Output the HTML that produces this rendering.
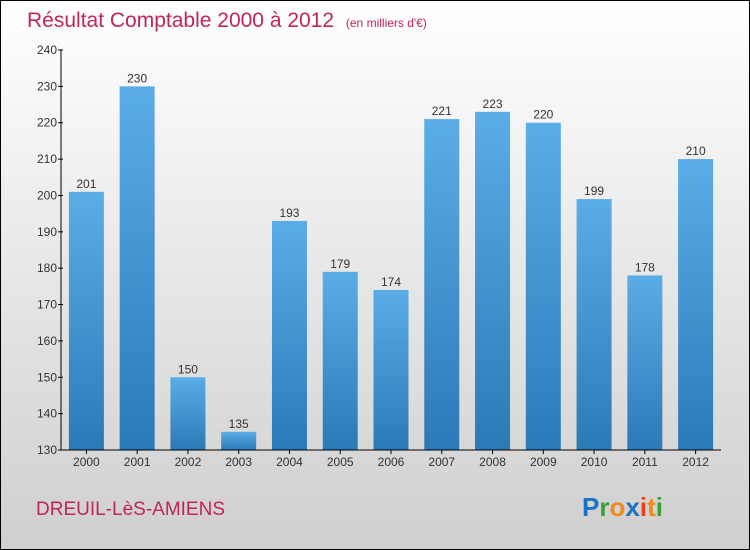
<!DOCTYPE html>
<html><head><meta charset="utf-8"><style>
body{margin:0;width:750px;height:550px;overflow:hidden;font-family:"Liberation Sans",sans-serif}
#wrap{position:absolute;left:0;top:0;width:748px;height:548px;border:1px solid #000;background:linear-gradient(#ffffff,#cfcfcf)}
</style></head><body>
<div id="wrap">
<svg width="750" height="550" style="position:absolute;left:-1px;top:-1px">
<defs><linearGradient id="bg" x1="0" y1="0" x2="0" y2="1"><stop offset="0" stop-color="#5aade6"/><stop offset="1" stop-color="#2a7ab8"/></linearGradient></defs>
<text x="27" y="27" font-size="21" fill="#c0245c">Résultat Comptable 2000 à 2012 <tspan font-size="12" dx="6">(en milliers d'€)</tspan></text>
<g id="g"></g>
<text x="36" y="515" font-size="19" fill="#c0245c">DREUIL-LèS-AMIENS</text>
<text x="582" y="516" font-size="26" font-weight="bold"><tspan fill="#1a73c6">P</tspan><tspan fill="#3aa23a">r</tspan><tspan fill="#f08a1c">o</tspan><tspan fill="#1a73c6">x</tspan><tspan fill="#e8401c">i</tspan><tspan fill="#f08a1c">t</tspan><tspan fill="#3aa23a">i</tspan></text>
</svg></div>
<script>
const years=["2000","2001","2002","2003","2004","2005","2006","2007","2008","2009","2010","2011","2012"];
const values=[201,230,150,135,193,179,174,221,223,220,199,178,210];
const ticks=[130,140,150,160,170,180,190,200,210,220,230,240];
const g=document.getElementById('g');const NS='http://www.w3.org/2000/svg';
const x0=61,x1=721,yTop=50,yBot=450,vmin=130,vmax=240;
const y=v=>yBot-(v-vmin)/(vmax-vmin)*(yBot-yTop);
const step=(x1-x0)/years.length;
const xc=i=>x0+(i+0.5)*step;
function mk(t,a){const e=document.createElementNS(NS,t);for(const k in a)e.setAttribute(k,a[k]);g.appendChild(e);return e;}
years.forEach((yr,i)=>{
 const r=mk('rect',{x:xc(i)-17.5,y:y(values[i]),width:35,height:yBot-y(values[i]),fill:'url(#bg)'});
 
 
 const t=mk('text',{x:xc(i),y:y(values[i])-4,'font-size':12,fill:'#333','text-anchor':'middle'});t.textContent=values[i];
 
 
 const l=mk('text',{x:xc(i),y:466,'font-size':12,fill:'#333','text-anchor':'middle'});l.textContent=yr;
 
 
 mk('line',{x1:xc(i),x2:xc(i),y1:yBot,y2:yBot+4,stroke:'#000'});
});
ticks.forEach(v=>{
 mk('line',{x1:x0-3,x2:x0+2,y1:y(v),y2:y(v),stroke:'#000'});
 const t=mk('text',{x:x0-4,y:y(v)+4,'font-size':12,fill:'#333','text-anchor':'end'});t.textContent=v;
 
 
});
const ya=mk('line',{x1:x0,x2:x0,y1:yTop,y2:yBot,stroke:'#000'});


const xa=mk('line',{x1:x0,x2:x1,y1:yBot,y2:yBot,stroke:'#000'});


</script>
</body></html>
